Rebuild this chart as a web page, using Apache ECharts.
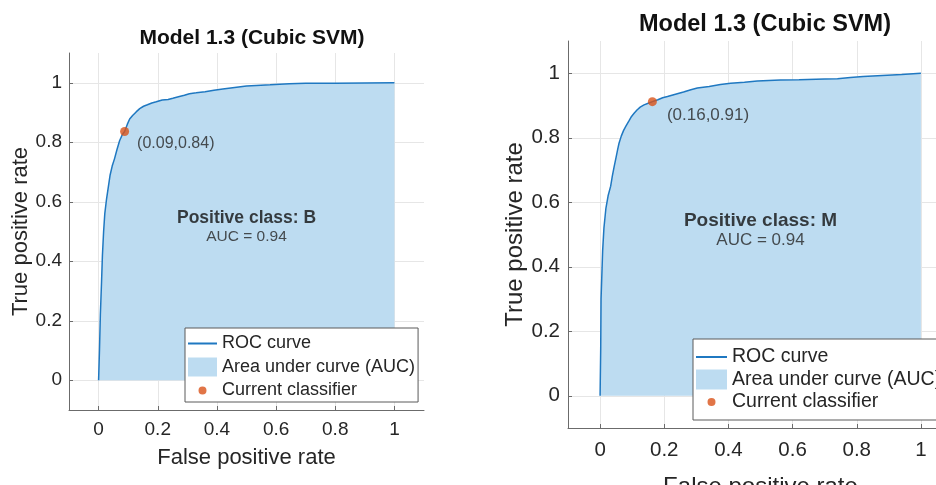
<!DOCTYPE html>
<html>
<head>
<meta charset="utf-8">
<script src="https://cdn.jsdelivr.net/npm/echarts@6/dist/echarts.min.js"></script>
<style>
  html, body { margin: 0; padding: 0; background: #fff; }
  #main { width: 936px; height: 485px; }
</style>
</head>
<body>
<div id="main"></div>
<script>
// ROC curves (positive class B left, M right)
var fprB = [0, 0.003, 0.006, 0.010, 0.013, 0.017, 0.021, 0.027, 0.033, 0.039, 0.046, 0.054, 0.062, 0.071, 0.080, 0.088,
  0.097, 0.105, 0.115, 0.127, 0.139, 0.152, 0.165, 0.180, 0.195, 0.215, 0.235, 0.251, 0.270, 0.290, 0.307, 0.330,
  0.360, 0.390, 0.420, 0.460, 0.500, 0.533, 0.580, 0.645, 0.700, 0.800, 0.900, 1.000];
var tprB = [0, 0.10, 0.22, 0.33, 0.42, 0.50, 0.56, 0.61, 0.65, 0.69, 0.72, 0.745, 0.775, 0.805, 0.825, 0.836,
  0.860, 0.878, 0.890, 0.902, 0.913, 0.921, 0.926, 0.932, 0.936, 0.942, 0.944, 0.948, 0.953, 0.958, 0.963, 0.966,
  0.970, 0.975, 0.979, 0.984, 0.989, 0.991, 0.993, 0.997, 0.998, 0.998, 0.999, 1.000];

var fprM = [0, 0.002, 0.003, 0.005, 0.008, 0.012, 0.018, 0.025, 0.033, 0.038, 0.044, 0.050, 0.055, 0.059, 0.066,
  0.073, 0.080, 0.090, 0.098, 0.106, 0.115, 0.125, 0.137, 0.150, 0.163, 0.180, 0.195, 0.210, 0.235, 0.260, 0.283,
  0.303, 0.340, 0.375, 0.407, 0.450, 0.490, 0.562, 0.620, 0.700, 0.740, 0.780, 0.820, 0.880, 0.940, 1.000];
var tprM = [0, 0.15, 0.30, 0.36, 0.45, 0.52, 0.58, 0.62, 0.65, 0.68, 0.711, 0.74, 0.765, 0.783, 0.805,
  0.822, 0.835, 0.852, 0.866, 0.876, 0.886, 0.895, 0.902, 0.907, 0.912, 0.918, 0.924, 0.928, 0.935, 0.942, 0.949,
  0.954, 0.959, 0.965, 0.969, 0.972, 0.976, 0.979, 0.980, 0.982, 0.983, 0.987, 0.990, 0.993, 0.996, 1.000];

var classifierB = [0.088, 0.836];
var classifierM = [0.163, 0.912];
var classB = 'B', classM = 'M';
var aucB = 0.94, aucM = 0.94;
var noteAnchor = [0.5, 0.513];

var tickValues = [0, 0.2, 0.4, 0.6, 0.8, 1];
var panelTitle = 'Model 1.3 (Cubic SVM)';
var xName = 'False positive rate';
var yName = 'True positive rate';
var legendNames = ['ROC curve', 'Area under curve (AUC)', 'Current classifier'];

var FONT = '"Liberation Sans", Arial, Helvetica, sans-serif';
var BLUE = '#1f78c1';
var FILL = '#bddcf1';
var ORANGE = '#d95319';
var INK = '#262626';

function pairs(xs, ys) {
  return xs.map(function (x, i) { return [x, ys[i]]; });
}

// legend icons drawn as paths whose bounding box is the full icon cell
function lineIcon(w, h) {
  var c = h / 2;
  return 'path://M0,0L0.05,0L0,0.05Z M0,' + (c - 0.9) + 'L' + w + ',' + (c - 0.9) + 'L' + w + ',' + (c + 0.9) +
    'L0,' + (c + 0.9) + 'Z M' + w + ',' + h + 'L' + (w - 0.05) + ',' + h + 'L' + w + ',' + (h - 0.05) + 'Z';
}
function dotIcon(w, h, r) {
  var cx = w / 2, cy = h / 2;
  return 'path://M0,0L0.05,0L0,0.05Z M' + (cx - r) + ',' + cy + 'A' + r + ',' + r + ' 0 1,1 ' + (cx + r) + ',' + cy +
    'A' + r + ',' + r + ' 0 1,1 ' + (cx - r) + ',' + cy + 'Z M' + w + ',' + h + 'L' + (w - 0.05) + ',' + h + 'L' + w + ',' + (h - 0.05) + 'Z';
}

function axisPair(idx, s) {
  var common = {
    type: 'value', min: -0.1, max: 1.1, gridIndex: idx,
    nameLocation: 'middle',
    nameTextStyle: { fontFamily: FONT, fontSize: s.nameSize, color: INK },
    axisLine: { show: true, onZero: false, lineStyle: { color: '#6b6b6b', width: 1 } },
    axisTick: { show: true, inside: true, length: 4, customValues: tickValues, lineStyle: { color: '#6b6b6b' } },
    splitLine: { show: true, lineStyle: { color: '#e6e6e6', width: 1 } },
    axisLabel: { customValues: tickValues, fontFamily: FONT, fontSize: s.tickSize, color: INK }
  };
  var x = echarts.util.merge({ name: xName, nameGap: s.xNameGap, axisLabel: { margin: s.xMargin } }, common);
  var y = echarts.util.merge({ name: yName, nameGap: s.yNameGap, axisLabel: { margin: s.yMargin } }, common);
  return [x, y];
}

function panelSeries(idx, fpr, tpr, point, cls, auc, s) {
  var data = pairs(fpr, tpr);
  return [
    {
      name: legendNames[1], type: 'line', xAxisIndex: idx, yAxisIndex: idx, data: data,
      symbol: 'none', silent: true, z: 1,
      lineStyle: { width: 0 }, itemStyle: { color: FILL },
      areaStyle: { color: FILL, opacity: 1 }
    },
    {
      name: legendNames[0], type: 'line', xAxisIndex: idx, yAxisIndex: idx, data: data,
      symbol: 'none', silent: true, z: 2,
      lineStyle: { color: BLUE, width: 1.5 }, itemStyle: { color: BLUE }
    },
    {
      name: legendNames[2], type: 'scatter', xAxisIndex: idx, yAxisIndex: idx, data: [point],
      symbolSize: 9, z: 3, itemStyle: { color: ORANGE },
      label: {
        show: true, position: s.pointLabelPos, align: 'left', verticalAlign: 'middle',
        fontFamily: FONT, fontSize: s.pointSize, color: INK,
        formatter: function (p) { return '(' + p.value[0].toFixed(2) + ',' + p.value[1].toFixed(2) + ')'; }
      }
    },
    {
      name: 'note' + idx, type: 'scatter', xAxisIndex: idx, yAxisIndex: idx, data: [noteAnchor],
      symbolSize: 0, silent: true, z: 3,
      label: {
        show: true, position: 'inside',
        formatter: '{b|Positive class: ' + cls + '}\n{n|AUC = ' + auc.toFixed(2) + '}',
        rich: {
          b: { fontFamily: FONT, fontWeight: 'bold', fontSize: s.noteSize, color: '#111', lineHeight: s.noteLine, align: 'center' },
          n: { fontFamily: FONT, fontSize: s.aucSize, color: INK, lineHeight: s.noteLine, align: 'center' }
        }
      }
    }
  ];
}

function panelLegend(s) {
  return {
    orient: 'vertical', left: s.left, top: s.top,
    itemWidth: s.iw, itemHeight: s.ih, itemGap: s.gap, padding: s.padding,
    borderColor: '#5a5a5a', borderWidth: 1, borderRadius: 0, backgroundColor: '#fff',
    selectedMode: false, z: 10,
    textStyle: { fontFamily: FONT, fontSize: s.fontSize, color: INK },
    data: [
      { name: legendNames[0], icon: lineIcon(s.iw, s.ih) },
      { name: legendNames[1], icon: 'rect' },
      { name: legendNames[2], icon: dotIcon(s.iw, s.ih, 4) }
    ]
  };
}

var left = {
  tickSize: 19, nameSize: 22, xNameGap: 37, yNameGap: 36, xMargin: 10, yMargin: 7,
  pointLabelPos: [17, 17], pointSize: 16, noteSize: 17.5, aucSize: 15.5, noteLine: 19
};
var right = {
  tickSize: 20.5, nameSize: 24, xNameGap: 47, yNameGap: 41, xMargin: 12, yMargin: 8,
  pointLabelPos: [19, 18], pointSize: 17, noteSize: 19, aucSize: 17, noteLine: 20
};
var axesL = axisPair(0, left);
var axesR = axisPair(1, right);

var chart = echarts.init(document.getElementById('main'), null, { renderer: 'canvas' });
chart.setOption({
  animation: false,
  backgroundColor: '#fff',
  title: [
    { text: panelTitle, left: 247, top: 23, textAlign: 'center',
      textStyle: { fontFamily: FONT, fontSize: 21, fontWeight: 'bold', color: '#111' } },
    { text: panelTitle, left: 760, top: 8, textAlign: 'center',
      textStyle: { fontFamily: FONT, fontSize: 23.5, fontWeight: 'bold', color: '#111' } }
  ],
  grid: [
    { left: 69, top: 53, width: 355, height: 357, outerBoundsMode: 'none' },
    { left: 568, top: 41, width: 385, height: 387, outerBoundsMode: 'none' }
  ],
  xAxis: [axesL[0], axesR[0]],
  yAxis: [axesL[1], axesR[1]],
  legend: [
    panelLegend({ left: 185, top: 328, iw: 29, ih: 19, gap: 4.5, padding: [6, 3, 2, 3], fontSize: 18 }),
    panelLegend({ left: 693, top: 339, iw: 31, ih: 20, gap: 2.5, padding: [8, 6, 8, 3], fontSize: 19.5 })
  ],
  series: [].concat(
    panelSeries(0, fprB, tprB, classifierB, classB, aucB, left),
    panelSeries(1, fprM, tprM, classifierM, classM, aucM, right)
  )
});
</script>
</body>
</html>
